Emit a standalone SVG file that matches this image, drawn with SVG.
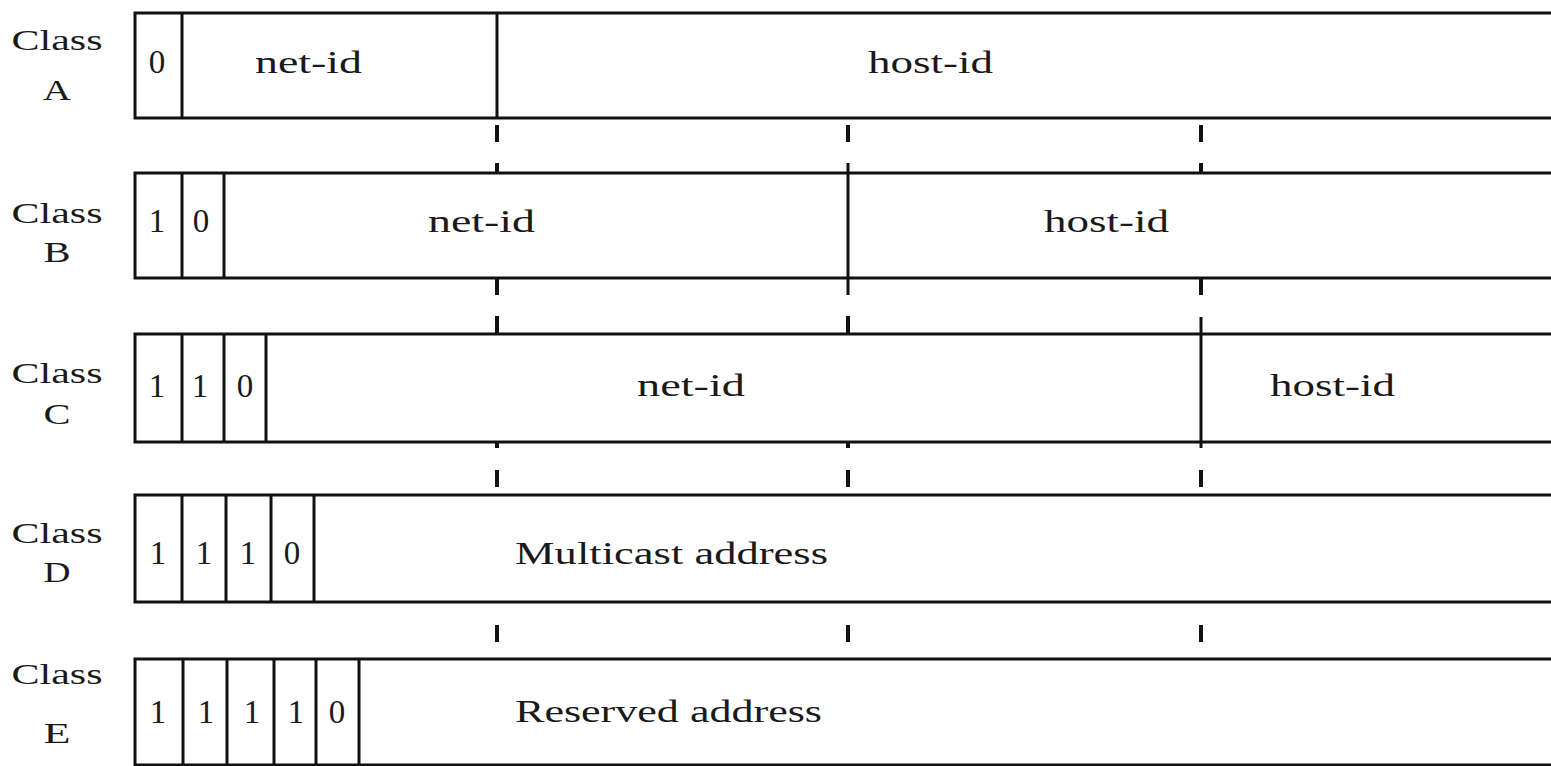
<svg xmlns="http://www.w3.org/2000/svg" width="1551" height="766" viewBox="0 0 1551 766">
  <style>
    .row { fill: #fff; stroke: #111; stroke-width: 3; }
    .div { stroke: #111; stroke-width: 3; fill: none; }
    .tick { stroke: #111; stroke-width: 4; fill: none; }
    .cls { font-family: "Liberation Serif", "Times New Roman", serif; font-size: 29px; fill: #1a1a1a; text-anchor: middle; }
    .bit { font-family: "Liberation Serif", "Times New Roman", serif; font-size: 33px; fill: #1a1a1a; text-anchor: middle; }
    .fld { font-family: "Liberation Serif", "Times New Roman", serif; font-size: 32px; fill: #1a1a1a; }
  </style>
  <rect width="1551" height="766" fill="#fff"/>

  <!-- Class A -->
  <g id="class-a">
    <text class="cls" x="57" y="50" textLength="91" lengthAdjust="spacingAndGlyphs">Class</text>
    <text class="cls" x="57" y="100" textLength="28" lengthAdjust="spacingAndGlyphs">A</text>
    <rect class="row" x="135" y="13" width="1440" height="105"/>
    <line class="div" x1="182" y1="13" x2="182" y2="118"/>
    <line class="div" x1="497" y1="13" x2="497" y2="118"/>
    <text class="bit" x="157" y="73">0</text>
    <text class="fld" x="255" y="73" textLength="107" lengthAdjust="spacingAndGlyphs">net-id</text>
    <text class="fld" x="868" y="73" textLength="125" lengthAdjust="spacingAndGlyphs">host-id</text>
  </g>

  <!-- Class B -->
  <g id="class-b">
    <text class="cls" x="57" y="223" textLength="91" lengthAdjust="spacingAndGlyphs">Class</text>
    <text class="cls" x="57" y="262" textLength="27" lengthAdjust="spacingAndGlyphs">B</text>
    <rect class="row" x="135" y="173" width="1440" height="105"/>
    <line class="div" x1="182" y1="173" x2="182" y2="278"/>
    <line class="div" x1="224" y1="173" x2="224" y2="278"/>
    <line class="div" x1="848" y1="163" x2="848" y2="295"/>
    <text class="bit" x="157" y="232">1</text>
    <text class="bit" x="201" y="232">0</text>
    <text class="fld" x="428" y="232" textLength="107" lengthAdjust="spacingAndGlyphs">net-id</text>
    <text class="fld" x="1044" y="232" textLength="125" lengthAdjust="spacingAndGlyphs">host-id</text>
  </g>

  <!-- Class C -->
  <g id="class-c">
    <text class="cls" x="57" y="383" textLength="91" lengthAdjust="spacingAndGlyphs">Class</text>
    <text class="cls" x="57" y="424" textLength="27" lengthAdjust="spacingAndGlyphs">C</text>
    <rect class="row" x="135" y="334" width="1440" height="108"/>
    <line class="div" x1="182" y1="334" x2="182" y2="442"/>
    <line class="div" x1="224" y1="334" x2="224" y2="442"/>
    <line class="div" x1="266" y1="334" x2="266" y2="442"/>
    <line class="div" x1="1201" y1="317" x2="1201" y2="448"/>
    <text class="bit" x="157" y="397">1</text>
    <text class="bit" x="200" y="397">1</text>
    <text class="bit" x="245" y="397">0</text>
    <text class="fld" x="637" y="396" textLength="108" lengthAdjust="spacingAndGlyphs">net-id</text>
    <text class="fld" x="1270" y="396" textLength="125" lengthAdjust="spacingAndGlyphs">host-id</text>
  </g>

  <!-- Class D -->
  <g id="class-d">
    <text class="cls" x="57" y="543" textLength="91" lengthAdjust="spacingAndGlyphs">Class</text>
    <text class="cls" x="57" y="582" textLength="27" lengthAdjust="spacingAndGlyphs">D</text>
    <rect class="row" x="135" y="495" width="1440" height="107"/>
    <line class="div" x1="182" y1="495" x2="182" y2="602"/>
    <line class="div" x1="226" y1="495" x2="226" y2="602"/>
    <line class="div" x1="271" y1="495" x2="271" y2="602"/>
    <line class="div" x1="314" y1="495" x2="314" y2="602"/>
    <text class="bit" x="158" y="564">1</text>
    <text class="bit" x="204" y="564">1</text>
    <text class="bit" x="248" y="564">1</text>
    <text class="bit" x="292" y="564">0</text>
    <text class="fld" x="515" y="564" textLength="313" lengthAdjust="spacingAndGlyphs">Multicast address</text>
  </g>

  <!-- Class E -->
  <g id="class-e">
    <text class="cls" x="57" y="684" textLength="91" lengthAdjust="spacingAndGlyphs">Class</text>
    <text class="cls" x="57" y="743" textLength="27" lengthAdjust="spacingAndGlyphs">E</text>
    <rect class="row" x="135" y="659" width="1440" height="106"/>
    <line class="div" x1="183" y1="659" x2="183" y2="766"/>
    <line class="div" x1="227" y1="659" x2="227" y2="766"/>
    <line class="div" x1="274" y1="659" x2="274" y2="766"/>
    <line class="div" x1="316" y1="659" x2="316" y2="766"/>
    <line class="div" x1="359" y1="659" x2="359" y2="766"/>
    <text class="bit" x="158" y="723">1</text>
    <text class="bit" x="206" y="723">1</text>
    <text class="bit" x="252" y="723">1</text>
    <text class="bit" x="296" y="723">1</text>
    <text class="bit" x="337" y="723">0</text>
    <text class="fld" x="515" y="722" textLength="307" lengthAdjust="spacingAndGlyphs">Reserved address</text>
  </g>

  <!-- dashed alignment guides at the byte boundaries -->
  <g id="guides">
    <path class="tick" d="M497 125V142 M497 163V173 M497 278V295 M497 316V334 M497 442V448 M497 470V487 M497 625V642"/>
    <path class="tick" d="M848 125V142 M848 316V334 M848 442V448 M848 470V487 M848 625V642"/>
    <path class="tick" d="M1201 125V142 M1201 163V173 M1201 278V295 M1201 470V487 M1201 625V642"/>
  </g>
</svg>
